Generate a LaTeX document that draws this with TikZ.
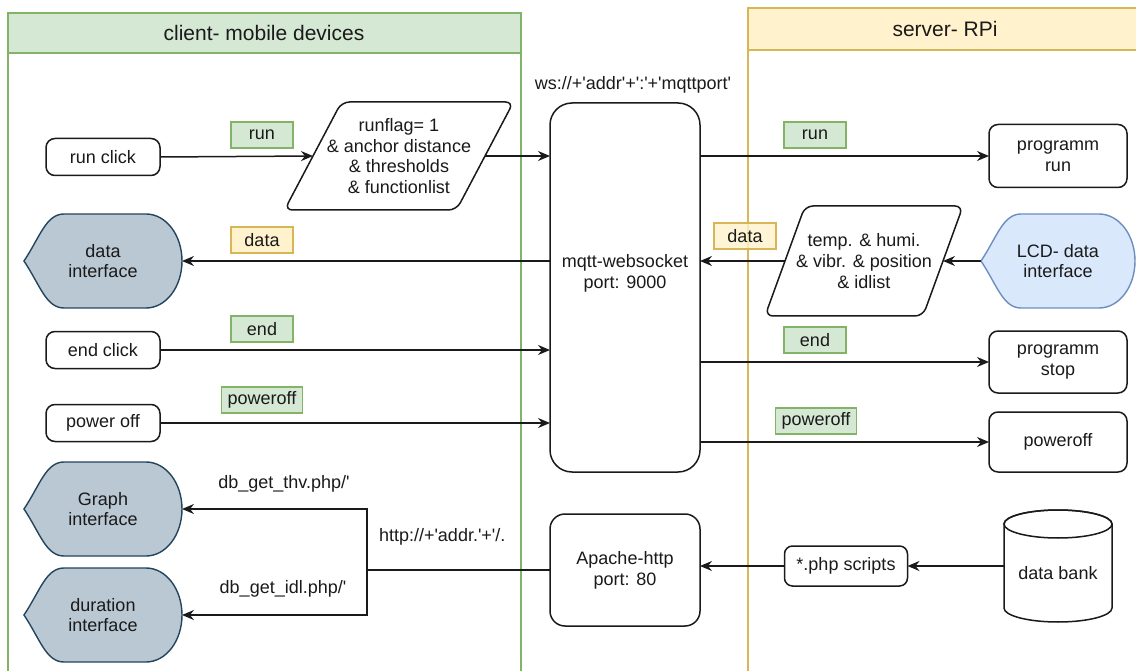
\documentclass[tikz,border=0pt]{standalone}
\usepackage{fontspec}
\newfontfamily\dfont{Liberation Sans}
\usetikzlibrary{arrows.meta,calc}
\pgfdeclarelayer{background}
\pgfsetlayers{background,main}
\definecolor{lanegreen}{HTML}{D5E8D4}
\definecolor{lanegreenline}{HTML}{82B366}
\definecolor{laneyellow}{HTML}{FFF2CC}
\definecolor{laneyellowline}{HTML}{D6B656}
\definecolor{dispfill}{HTML}{BAC8D3}
\definecolor{displine}{HTML}{23445D}
\definecolor{lcdfill}{HTML}{DAE8FC}
\definecolor{lcdline}{HTML}{6C8EBF}
\definecolor{ink}{HTML}{1A1A1A}

% display (teardrop) outline around a named node: name, fill, stroke
\newcommand\displayshape[3]{%
  \draw[line width=1.4pt, draw=#3, fill=#2]
    (#1.west)
    .. controls ($(#1.west)+(16,-24)$) and ($(#1.north west)+(22,0)$) .. ($(#1.north west)+(40,0)$)
    -- ($(#1.north east)+(-36,0)$)
    .. controls ($(#1.north east)+(-16,0)$) and ($(#1.east)+(0,-26)$) .. (#1.east)
    .. controls ($(#1.east)+(0,26)$) and ($(#1.south east)+(-16,0)$) .. ($(#1.south east)+(-36,0)$)
    -- ($(#1.south west)+(40,0)$)
    .. controls ($(#1.south west)+(22,0)$) and ($(#1.west)+(16,24)$) .. (#1.west) -- cycle;
}
% slanted data box around a named node: name, half slant
\newcommand\slantbox[2]{%
  \draw[draw=ink, line width=1.5pt, fill=white, rounded corners=8pt]
    ($(#1.north west)+(#2,0)$) -- ($(#1.north east)+(#2,0)$)
    -- ($(#1.south east)+(-#2,0)$) -- ($(#1.south west)+(-#2,0)$) -- cycle;
}

\begin{document}
\begin{tikzpicture}[x=1pt,y=-1pt,
  every node/.style={font=\dfont\fontsize{18}{20.8}\selectfont, text=ink, align=center, inner sep=0pt, outer sep=0pt},
  proc/.style={draw=ink, line width=1.5pt, rounded corners=9pt, fill=white},
  area/.style={inner sep=0pt},
  tag/.style={draw, line width=1.2pt, minimum height=26pt, minimum width=62pt, inner xsep=6pt},
  gtag/.style={tag, fill=lanegreen, draw=lanegreenline},
  ytag/.style={tag, fill=laneyellow, draw=laneyellowline},
  flow/.style={draw=ink, line width=1.5pt, -{Stealth[length=12pt,width=10pt,inset=4pt]}},
  link/.style={draw=ink, line width=1.5pt},
  lanehead/.style={font=\dfont\fontsize{21}{24}\selectfont},
]
\useasboundingbox (0,0) rectangle (1136,671);

% swimlanes
\begin{pgfonlayer}{background}
  \fill[lanegreen] (8,13) rectangle (521,53);
  \draw[lanegreenline, line width=1.5pt] (8,675) -- (8,13) -- (521,13) -- (521,675) (8,53) -- (521,53);
  \fill[laneyellow] (748,8) rectangle (1145,50);
  \draw[laneyellowline, line width=1.5pt] (748,675) -- (748,8) -- (1145,8) (748,50) -- (1145,50);
\end{pgfonlayer}
\node[lanehead] (clienttitle) at (264,33) {client- mobile devices};
\node[lanehead] (servertitle) at (945,29) {server- RPi};

% client side
\node[proc, minimum width=114pt, minimum height=37pt] (runclick) at (103,157) {run click};
\node[proc, minimum width=114pt, minimum height=37pt] (endclick) at (103,350) {end click};
\node[proc, minimum width=114pt, minimum height=37pt] (offclick) at (103,423) {power off};
\node[area, minimum width=158pt, minimum height=94pt] (datain) at (103,261) {data\\interface};
\node[area, minimum width=158pt, minimum height=94pt] (graphin) at (103,509) {Graph\\interface};
\node[area, minimum width=158pt, minimum height=94pt] (durin) at (103,615) {duration\\interface};
\node[area, minimum width=172pt, minimum height=108pt] (runflag) at (399,156)
  {runflag= 1\\\& anchor distance\\\& thresholds\\\& functionlist};

% broker and web server
\node[proc, rounded corners=22pt, minimum width=150pt, minimum height=369pt] (mqtt) at (625,287.5) {};
\node (mqtttext) at (625,273) {mqtt-websocket\\port: 9000};
\node (wsaddr) at (633,85) {ws://+'addr'+':'+'mqttport'};
\node[proc, rounded corners=15pt, minimum width=150pt, minimum height=112pt] (apache) at (625,570) {Apache-http\\port: 80};

% server side
\node[area, minimum width=158pt, minimum height=110pt] (temp) at (864,261)
  {temp. \& humi.\\\& vibr. \& position\\\& idlist};
\node[area, minimum width=154pt, minimum height=94pt] (lcd) at (1058,261) {LCD- data\\interface};
\node[proc, minimum width=138pt, minimum height=63pt] (prun) at (1058,156) {programm\\run};
\node[proc, minimum width=138pt, minimum height=62pt] (pstop) at (1058,362) {programm\\stop};
\node[proc, minimum width=138pt, minimum height=60pt] (poff) at (1058,442) {poweroff};
\node[proc, rounded corners=8pt, minimum width=123pt, minimum height=40pt] (php) at (846,566) {*.php scripts};
\node[area, minimum width=108pt, minimum height=112pt] (db) at (1058,566) {};
\node (dbtext) at (1058,573) {data bank};

% outlines behind the texts
\begin{pgfonlayer}{background}
  \displayshape{datain}{dispfill}{displine}
  \displayshape{graphin}{dispfill}{displine}
  \displayshape{durin}{dispfill}{displine}
  \displayshape{lcd}{lcdfill}{lcdline}
  \slantbox{runflag}{28.5}
  \slantbox{temp}{20}
  \draw[draw=ink, line width=1.5pt, fill=white]
    ($(db.north west)+(0,14)$) -- ($(db.south west)+(0,-14)$)
    arc[start angle=180, end angle=360, x radius=54pt, y radius=14pt]
    -- ($(db.north east)+(0,14)$)
    arc[start angle=0, end angle=180, x radius=54pt, y radius=14pt] -- cycle;
  \draw[draw=ink, line width=1.5pt] ($(db.north)+(0,14)$) ellipse[x radius=54pt, y radius=14pt];
\end{pgfonlayer}

% message tags
\node[gtag] (runtagc) at (262,135) {run};
\node[ytag] (datatagc) at (262,240) {data};
\node[gtag] (endtagc) at (262,329) {end};
\node[gtag] (offtagc) at (262,400) {poweroff};
\node[gtag] (runtags) at (815,135) {run};
\node[ytag, fill opacity=0.8, text opacity=1] (datatags) at (745,236) {data};
\node[gtag] (endtags) at (815,340) {end};
\node[gtag] (offtags) at (816,421) {poweroff};
\node (thvlabel) at (284,484) {db\_get\_thv.php/'};
\node (idllabel) at (283,589) {db\_get\_idl.php/'};
\node[anchor=west] (httplabel) at (379,537) {http://+'addr.'+'/.};

% connectors
\draw[flow] (runclick.east) -- (runflag.west);
\draw[flow] (runflag.east) -- (runflag.east -| mqtt.west);
\draw[flow] (mqtt.east |- prun.west) -- (prun.west);
\draw[flow] (mqtt.west |- datain.east) -- (datain.east);
\draw[flow] (lcd.west) -- (temp.east);
\draw[flow] (temp.west) -- (temp.west -| mqtt.east);
\draw[flow] (endclick.east) -- (endclick.east -| mqtt.west);
\draw[flow] (mqtt.east |- pstop.west) -- (pstop.west);
\draw[flow] (offclick.east) -- (offclick.east -| mqtt.west);
\draw[flow] (mqtt.east |- poff.west) -- (poff.west);
\draw[flow] (db.west) -- (php.east);
\draw[flow] (php.west) -- (php.west -| apache.east);
\coordinate (httpsplit) at (367,570);
\draw[link] (apache.west) -- (httpsplit);
\draw[flow] (httpsplit) |- (graphin.east);
\draw[flow] (httpsplit) |- (durin.east);
\end{tikzpicture}
\end{document}
